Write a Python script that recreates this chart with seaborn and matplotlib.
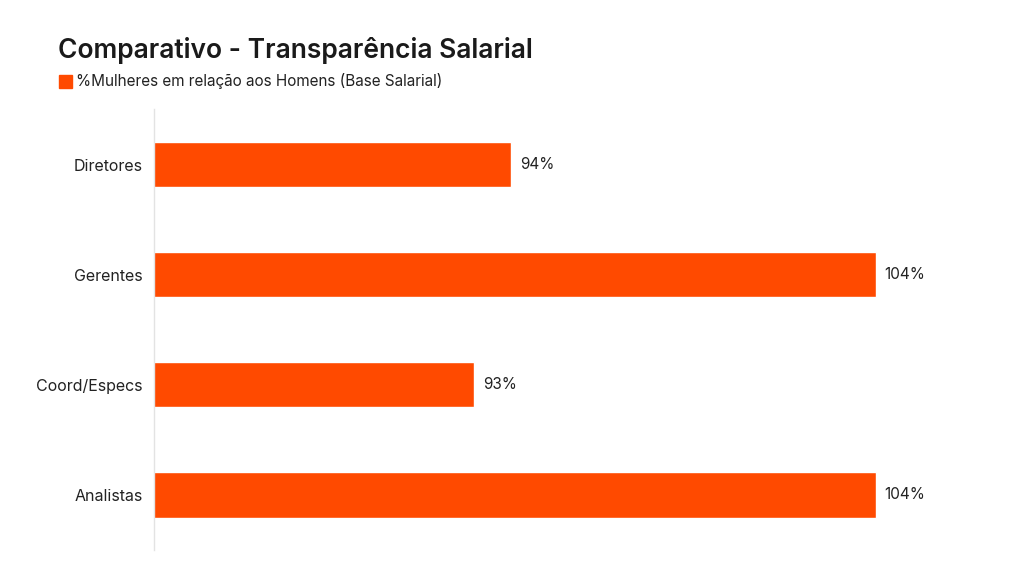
import matplotlib
matplotlib.use("Agg")
import matplotlib.pyplot as plt
import seaborn as sns
import pandas as pd
from matplotlib.patches import Rectangle

categories = ["Diretores", "Gerentes", "Coord/Especs", "Analistas"]
values = [94, 104, 93, 104]
bar_color = "#FF4A00"

sns.set_style("white")
plt.rcParams["font.family"] = ["Inter", "DejaVu Sans"]

df = pd.DataFrame({"cat": categories, "val": values})

fig = plt.figure(figsize=(10.24, 5.76), dpi=100)
ax = fig.add_axes([0.150, 0.045, 0.79, 0.765])
sns.barplot(data=df, x="val", y="cat", color=bar_color, width=0.41, ax=ax, saturation=1)

ax.set_xlim(84.2, 104 + (104 - 84.2) * (0.79 * 1024 - 722) / 722)
ax.set_ylim(3.5, -0.5)
for i, v in enumerate(values):
    ax.text(v + 0.25, i, f"{v}%", va="center", ha="left", fontsize=11, color="#222222")

ax.set_xlabel("")
ax.set_ylabel("")
ax.set_xticks([])
ax.tick_params(axis="y", length=0, labelsize=11.5, labelcolor="#222222", pad=8)
for s in ["top", "right", "bottom"]:
    ax.spines[s].set_visible(False)
ax.spines["left"].set_color("#E3E3E3")
ax.spines["left"].set_linewidth(1)

fig.text(0.057, 0.913, "Comparativo - Transparência Salarial", fontsize=19,
         fontweight="semibold", color="#1a1a1a", va="center")
fig.patches.append(Rectangle((0.058, 0.848), 0.0125, 0.022, color=bar_color,
                             transform=fig.transFigure, figure=fig))
fig.text(0.074, 0.859, "%Mulheres em relação aos Homens (Base Salarial)", fontsize=11,
         color="#222222", va="center")

fig.savefig("out.png", dpi=100, facecolor="white")
